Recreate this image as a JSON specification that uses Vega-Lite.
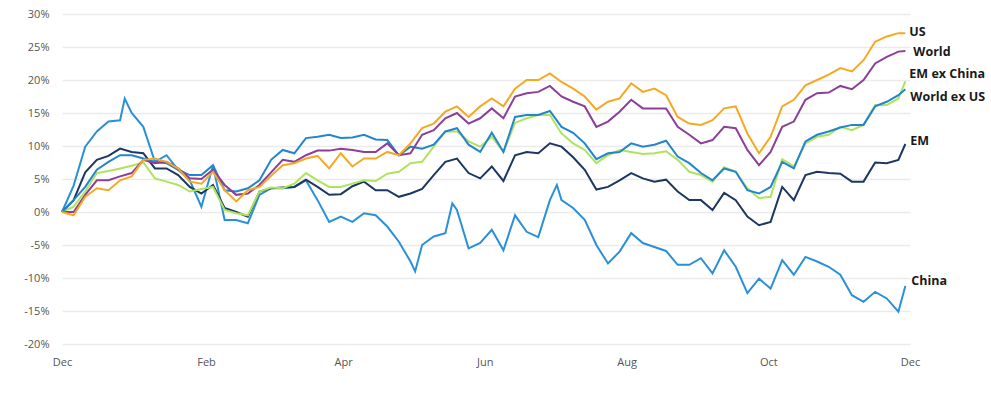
{
"$schema":"https://vega.github.io/schema/vega-lite/v6.json",
"width":848,"height":330,
"autosize":{"type":"none"},
"padding":{"left":62,"top":14,"right":81,"bottom":50},
"config":{"view":{"stroke":null},"font":"Open Sans"},
"data":{"values":[
{"d":"2022-12-01","s":"China","v":0},{"d":"2022-12-06","s":"China","v":4},{"d":"2022-12-11","s":"China","v":9.9},{"d":"2022-12-16","s":"China","v":12.2},{"d":"2022-12-21","s":"China","v":13.7},{"d":"2022-12-26","s":"China","v":13.9},{"d":"2022-12-28","s":"China","v":17.2},{"d":"2022-12-31","s":"China","v":15},{"d":"2023-01-05","s":"China","v":12.9},{"d":"2023-01-10","s":"China","v":7.6},{"d":"2023-01-15","s":"China","v":8.6},{"d":"2023-01-20","s":"China","v":6.4},{"d":"2023-01-25","s":"China","v":4.8},{"d":"2023-01-30","s":"China","v":0.8},{"d":"2023-02-04","s":"China","v":7},{"d":"2023-02-09","s":"China","v":-1.2},{"d":"2023-02-14","s":"China","v":-1.2},{"d":"2023-02-19","s":"China","v":-1.7},{"d":"2023-02-24","s":"China","v":2.6},{"d":"2023-03-01","s":"China","v":3.6},{"d":"2023-03-06","s":"China","v":3.6},{"d":"2023-03-11","s":"China","v":3.8},{"d":"2023-03-16","s":"China","v":4.8},{"d":"2023-03-21","s":"China","v":1.8},{"d":"2023-03-26","s":"China","v":-1.5},{"d":"2023-03-31","s":"China","v":-0.7},{"d":"2023-04-05","s":"China","v":-1.5},{"d":"2023-04-10","s":"China","v":-0.2},{"d":"2023-04-15","s":"China","v":-0.5},{"d":"2023-04-20","s":"China","v":-2.2},{"d":"2023-04-25","s":"China","v":-4.5},{"d":"2023-04-30","s":"China","v":-7.5},{"d":"2023-05-02","s":"China","v":-9},{"d":"2023-05-05","s":"China","v":-5},{"d":"2023-05-10","s":"China","v":-3.7},{"d":"2023-05-15","s":"China","v":-3.2},{"d":"2023-05-18","s":"China","v":1.3},{"d":"2023-05-20","s":"China","v":0.3},{"d":"2023-05-25","s":"China","v":-5.5},{"d":"2023-05-30","s":"China","v":-4.7},{"d":"2023-06-04","s":"China","v":-2.7},{"d":"2023-06-09","s":"China","v":-5.8},{"d":"2023-06-14","s":"China","v":-0.5},{"d":"2023-06-19","s":"China","v":-3},{"d":"2023-06-24","s":"China","v":-3.8},{"d":"2023-06-29","s":"China","v":1.8},{"d":"2023-07-02","s":"China","v":4.1},{"d":"2023-07-04","s":"China","v":1.8},{"d":"2023-07-09","s":"China","v":0.6},{"d":"2023-07-14","s":"China","v":-1.2},{"d":"2023-07-19","s":"China","v":-5},{"d":"2023-07-24","s":"China","v":-7.8},{"d":"2023-07-29","s":"China","v":-6},{"d":"2023-08-03","s":"China","v":-3.2},{"d":"2023-08-08","s":"China","v":-4.7},{"d":"2023-08-13","s":"China","v":-5.3},{"d":"2023-08-18","s":"China","v":-5.9},{"d":"2023-08-23","s":"China","v":-8},{"d":"2023-08-28","s":"China","v":-8},{"d":"2023-09-02","s":"China","v":-7},{"d":"2023-09-07","s":"China","v":-9.3},{"d":"2023-09-12","s":"China","v":-5.8},{"d":"2023-09-17","s":"China","v":-8.3},{"d":"2023-09-22","s":"China","v":-12.3},{"d":"2023-09-27","s":"China","v":-10.1},{"d":"2023-10-02","s":"China","v":-11.6},{"d":"2023-10-07","s":"China","v":-7.3},{"d":"2023-10-12","s":"China","v":-9.5},{"d":"2023-10-17","s":"China","v":-6.8},{"d":"2023-10-22","s":"China","v":-7.5},{"d":"2023-10-27","s":"China","v":-8.3},{"d":"2023-11-01","s":"China","v":-9.5},{"d":"2023-11-06","s":"China","v":-12.6},{"d":"2023-11-11","s":"China","v":-13.6},{"d":"2023-11-16","s":"China","v":-12.1},{"d":"2023-11-21","s":"China","v":-13.1},{"d":"2023-11-26","s":"China","v":-15.1},{"d":"2023-11-29","s":"China","v":-11.2},
{"d":"2022-12-01","s":"EM","v":0},{"d":"2022-12-06","s":"EM","v":1.8},{"d":"2022-12-11","s":"EM","v":6},{"d":"2022-12-16","s":"EM","v":7.9},{"d":"2022-12-21","s":"EM","v":8.5},{"d":"2022-12-26","s":"EM","v":9.6},{"d":"2022-12-31","s":"EM","v":9.1},{"d":"2023-01-05","s":"EM","v":8.9},{"d":"2023-01-10","s":"EM","v":6.6},{"d":"2023-01-15","s":"EM","v":6.6},{"d":"2023-01-20","s":"EM","v":5.6},{"d":"2023-01-25","s":"EM","v":3.8},{"d":"2023-01-30","s":"EM","v":2.8},{"d":"2023-02-04","s":"EM","v":4.1},{"d":"2023-02-09","s":"EM","v":0.6},{"d":"2023-02-14","s":"EM","v":0},{"d":"2023-02-19","s":"EM","v":-0.7},{"d":"2023-02-24","s":"EM","v":3.1},{"d":"2023-03-01","s":"EM","v":3.6},{"d":"2023-03-06","s":"EM","v":3.7},{"d":"2023-03-11","s":"EM","v":3.8},{"d":"2023-03-16","s":"EM","v":4.9},{"d":"2023-03-21","s":"EM","v":3.8},{"d":"2023-03-26","s":"EM","v":2.6},{"d":"2023-03-31","s":"EM","v":2.7},{"d":"2023-04-05","s":"EM","v":3.9},{"d":"2023-04-10","s":"EM","v":4.6},{"d":"2023-04-15","s":"EM","v":3.3},{"d":"2023-04-20","s":"EM","v":3.3},{"d":"2023-04-25","s":"EM","v":2.3},{"d":"2023-04-30","s":"EM","v":2.8},{"d":"2023-05-05","s":"EM","v":3.5},{"d":"2023-05-10","s":"EM","v":5.6},{"d":"2023-05-15","s":"EM","v":7.6},{"d":"2023-05-20","s":"EM","v":8.1},{"d":"2023-05-25","s":"EM","v":5.9},{"d":"2023-05-30","s":"EM","v":5.1},{"d":"2023-06-04","s":"EM","v":6.9},{"d":"2023-06-09","s":"EM","v":4.7},{"d":"2023-06-14","s":"EM","v":8.6},{"d":"2023-06-19","s":"EM","v":9.1},{"d":"2023-06-24","s":"EM","v":8.9},{"d":"2023-06-29","s":"EM","v":10.4},{"d":"2023-07-04","s":"EM","v":9.9},{"d":"2023-07-09","s":"EM","v":8.3},{"d":"2023-07-14","s":"EM","v":6.4},{"d":"2023-07-19","s":"EM","v":3.4},{"d":"2023-07-24","s":"EM","v":3.8},{"d":"2023-07-29","s":"EM","v":4.8},{"d":"2023-08-03","s":"EM","v":5.9},{"d":"2023-08-08","s":"EM","v":5.1},{"d":"2023-08-13","s":"EM","v":4.6},{"d":"2023-08-18","s":"EM","v":4.9},{"d":"2023-08-23","s":"EM","v":3.1},{"d":"2023-08-28","s":"EM","v":1.8},{"d":"2023-09-02","s":"EM","v":1.8},{"d":"2023-09-07","s":"EM","v":0.3},{"d":"2023-09-12","s":"EM","v":2.9},{"d":"2023-09-17","s":"EM","v":1.8},{"d":"2023-09-22","s":"EM","v":-0.7},{"d":"2023-09-27","s":"EM","v":-2},{"d":"2023-10-02","s":"EM","v":-1.5},{"d":"2023-10-07","s":"EM","v":3.8},{"d":"2023-10-12","s":"EM","v":1.8},{"d":"2023-10-17","s":"EM","v":5.6},{"d":"2023-10-22","s":"EM","v":6.1},{"d":"2023-10-27","s":"EM","v":5.9},{"d":"2023-11-01","s":"EM","v":5.8},{"d":"2023-11-06","s":"EM","v":4.6},{"d":"2023-11-11","s":"EM","v":4.6},{"d":"2023-11-16","s":"EM","v":7.5},{"d":"2023-11-21","s":"EM","v":7.4},{"d":"2023-11-26","s":"EM","v":7.9},{"d":"2023-11-29","s":"EM","v":10.3},
{"d":"2022-12-01","s":"EM ex China","v":0},{"d":"2022-12-06","s":"EM ex China","v":0.8},{"d":"2022-12-11","s":"EM ex China","v":3.1},{"d":"2022-12-16","s":"EM ex China","v":5.9},{"d":"2022-12-21","s":"EM ex China","v":6.2},{"d":"2022-12-26","s":"EM ex China","v":6.6},{"d":"2022-12-31","s":"EM ex China","v":7},{"d":"2023-01-05","s":"EM ex China","v":7.5},{"d":"2023-01-10","s":"EM ex China","v":5.1},{"d":"2023-01-15","s":"EM ex China","v":4.6},{"d":"2023-01-20","s":"EM ex China","v":4.1},{"d":"2023-01-25","s":"EM ex China","v":3.1},{"d":"2023-01-30","s":"EM ex China","v":3.5},{"d":"2023-02-04","s":"EM ex China","v":3.8},{"d":"2023-02-09","s":"EM ex China","v":0.3},{"d":"2023-02-14","s":"EM ex China","v":-0.2},{"d":"2023-02-19","s":"EM ex China","v":-0.5},{"d":"2023-02-24","s":"EM ex China","v":3.1},{"d":"2023-03-01","s":"EM ex China","v":3.7},{"d":"2023-03-06","s":"EM ex China","v":3.6},{"d":"2023-03-11","s":"EM ex China","v":4.3},{"d":"2023-03-16","s":"EM ex China","v":5.9},{"d":"2023-03-21","s":"EM ex China","v":4.8},{"d":"2023-03-26","s":"EM ex China","v":3.8},{"d":"2023-03-31","s":"EM ex China","v":3.8},{"d":"2023-04-05","s":"EM ex China","v":4.3},{"d":"2023-04-10","s":"EM ex China","v":4.8},{"d":"2023-04-15","s":"EM ex China","v":4.7},{"d":"2023-04-20","s":"EM ex China","v":5.8},{"d":"2023-04-25","s":"EM ex China","v":6.1},{"d":"2023-04-30","s":"EM ex China","v":7.4},{"d":"2023-05-05","s":"EM ex China","v":7.6},{"d":"2023-05-10","s":"EM ex China","v":9.9},{"d":"2023-05-15","s":"EM ex China","v":12.2},{"d":"2023-05-20","s":"EM ex China","v":12.2},{"d":"2023-05-25","s":"EM ex China","v":10.7},{"d":"2023-05-30","s":"EM ex China","v":9.9},{"d":"2023-06-04","s":"EM ex China","v":11.4},{"d":"2023-06-09","s":"EM ex China","v":9.1},{"d":"2023-06-14","s":"EM ex China","v":13.5},{"d":"2023-06-19","s":"EM ex China","v":14.2},{"d":"2023-06-24","s":"EM ex China","v":14.7},{"d":"2023-06-29","s":"EM ex China","v":14.7},{"d":"2023-07-04","s":"EM ex China","v":11.9},{"d":"2023-07-09","s":"EM ex China","v":10.4},{"d":"2023-07-14","s":"EM ex China","v":9.4},{"d":"2023-07-19","s":"EM ex China","v":7.4},{"d":"2023-07-24","s":"EM ex China","v":8.6},{"d":"2023-07-29","s":"EM ex China","v":9.4},{"d":"2023-08-03","s":"EM ex China","v":9.1},{"d":"2023-08-08","s":"EM ex China","v":8.8},{"d":"2023-08-13","s":"EM ex China","v":8.9},{"d":"2023-08-18","s":"EM ex China","v":9.2},{"d":"2023-08-23","s":"EM ex China","v":7.9},{"d":"2023-08-28","s":"EM ex China","v":6.1},{"d":"2023-09-02","s":"EM ex China","v":5.6},{"d":"2023-09-07","s":"EM ex China","v":4.6},{"d":"2023-09-12","s":"EM ex China","v":6.8},{"d":"2023-09-17","s":"EM ex China","v":6.1},{"d":"2023-09-22","s":"EM ex China","v":3.6},{"d":"2023-09-27","s":"EM ex China","v":2.1},{"d":"2023-10-02","s":"EM ex China","v":2.3},{"d":"2023-10-07","s":"EM ex China","v":8},{"d":"2023-10-12","s":"EM ex China","v":6.9},{"d":"2023-10-17","s":"EM ex China","v":10.4},{"d":"2023-10-22","s":"EM ex China","v":11.4},{"d":"2023-10-27","s":"EM ex China","v":11.7},{"d":"2023-11-01","s":"EM ex China","v":12.9},{"d":"2023-11-06","s":"EM ex China","v":12.4},{"d":"2023-11-11","s":"EM ex China","v":13.2},{"d":"2023-11-16","s":"EM ex China","v":16.2},{"d":"2023-11-21","s":"EM ex China","v":16.2},{"d":"2023-11-26","s":"EM ex China","v":17.2},{"d":"2023-11-29","s":"EM ex China","v":19.8},
{"d":"2022-12-01","s":"World ex US","v":0},{"d":"2022-12-06","s":"World ex US","v":1.8},{"d":"2022-12-11","s":"World ex US","v":3.8},{"d":"2022-12-16","s":"World ex US","v":6.4},{"d":"2022-12-21","s":"World ex US","v":7.6},{"d":"2022-12-26","s":"World ex US","v":8.6},{"d":"2022-12-31","s":"World ex US","v":8.6},{"d":"2023-01-05","s":"World ex US","v":8.1},{"d":"2023-01-10","s":"World ex US","v":7.6},{"d":"2023-01-15","s":"World ex US","v":7.4},{"d":"2023-01-20","s":"World ex US","v":6.4},{"d":"2023-01-25","s":"World ex US","v":5.6},{"d":"2023-01-30","s":"World ex US","v":5.6},{"d":"2023-02-04","s":"World ex US","v":7.1},{"d":"2023-02-09","s":"World ex US","v":3.3},{"d":"2023-02-14","s":"World ex US","v":3.1},{"d":"2023-02-19","s":"World ex US","v":3.6},{"d":"2023-02-24","s":"World ex US","v":4.8},{"d":"2023-03-01","s":"World ex US","v":7.9},{"d":"2023-03-06","s":"World ex US","v":9.4},{"d":"2023-03-11","s":"World ex US","v":8.9},{"d":"2023-03-16","s":"World ex US","v":11.2},{"d":"2023-03-21","s":"World ex US","v":11.4},{"d":"2023-03-26","s":"World ex US","v":11.7},{"d":"2023-03-31","s":"World ex US","v":11.2},{"d":"2023-04-05","s":"World ex US","v":11.3},{"d":"2023-04-10","s":"World ex US","v":11.7},{"d":"2023-04-15","s":"World ex US","v":11},{"d":"2023-04-20","s":"World ex US","v":10.9},{"d":"2023-04-25","s":"World ex US","v":8.6},{"d":"2023-04-30","s":"World ex US","v":9.9},{"d":"2023-05-05","s":"World ex US","v":9.6},{"d":"2023-05-10","s":"World ex US","v":10.2},{"d":"2023-05-15","s":"World ex US","v":12.2},{"d":"2023-05-20","s":"World ex US","v":12.7},{"d":"2023-05-25","s":"World ex US","v":10.2},{"d":"2023-05-30","s":"World ex US","v":9.1},{"d":"2023-06-04","s":"World ex US","v":12},{"d":"2023-06-09","s":"World ex US","v":9.1},{"d":"2023-06-14","s":"World ex US","v":14.4},{"d":"2023-06-19","s":"World ex US","v":14.7},{"d":"2023-06-24","s":"World ex US","v":14.7},{"d":"2023-06-29","s":"World ex US","v":15.3},{"d":"2023-07-04","s":"World ex US","v":12.9},{"d":"2023-07-09","s":"World ex US","v":12},{"d":"2023-07-14","s":"World ex US","v":10.4},{"d":"2023-07-19","s":"World ex US","v":8},{"d":"2023-07-24","s":"World ex US","v":8.9},{"d":"2023-07-29","s":"World ex US","v":9.1},{"d":"2023-08-03","s":"World ex US","v":10.4},{"d":"2023-08-08","s":"World ex US","v":9.9},{"d":"2023-08-13","s":"World ex US","v":10.2},{"d":"2023-08-18","s":"World ex US","v":10.8},{"d":"2023-08-23","s":"World ex US","v":8.4},{"d":"2023-08-28","s":"World ex US","v":7.4},{"d":"2023-09-02","s":"World ex US","v":5.9},{"d":"2023-09-07","s":"World ex US","v":4.8},{"d":"2023-09-12","s":"World ex US","v":6.6},{"d":"2023-09-17","s":"World ex US","v":6.1},{"d":"2023-09-22","s":"World ex US","v":3.3},{"d":"2023-09-27","s":"World ex US","v":2.8},{"d":"2023-10-02","s":"World ex US","v":3.8},{"d":"2023-10-07","s":"World ex US","v":7.6},{"d":"2023-10-12","s":"World ex US","v":6.6},{"d":"2023-10-17","s":"World ex US","v":10.7},{"d":"2023-10-22","s":"World ex US","v":11.7},{"d":"2023-10-27","s":"World ex US","v":12.2},{"d":"2023-11-01","s":"World ex US","v":12.8},{"d":"2023-11-06","s":"World ex US","v":13.2},{"d":"2023-11-11","s":"World ex US","v":13.2},{"d":"2023-11-16","s":"World ex US","v":16},{"d":"2023-11-21","s":"World ex US","v":16.7},{"d":"2023-11-26","s":"World ex US","v":17.7},{"d":"2023-11-29","s":"World ex US","v":18.6},
{"d":"2022-12-01","s":"World","v":0},{"d":"2022-12-06","s":"World","v":0},{"d":"2022-12-11","s":"World","v":2.6},{"d":"2022-12-16","s":"World","v":4.8},{"d":"2022-12-21","s":"World","v":4.8},{"d":"2022-12-26","s":"World","v":5.4},{"d":"2022-12-31","s":"World","v":5.9},{"d":"2023-01-05","s":"World","v":7.9},{"d":"2023-01-10","s":"World","v":7.4},{"d":"2023-01-15","s":"World","v":7.6},{"d":"2023-01-20","s":"World","v":6.6},{"d":"2023-01-25","s":"World","v":5.1},{"d":"2023-01-30","s":"World","v":5},{"d":"2023-02-04","s":"World","v":6.4},{"d":"2023-02-09","s":"World","v":4.1},{"d":"2023-02-14","s":"World","v":2.6},{"d":"2023-02-19","s":"World","v":2.8},{"d":"2023-02-24","s":"World","v":4.1},{"d":"2023-03-01","s":"World","v":6},{"d":"2023-03-06","s":"World","v":7.9},{"d":"2023-03-11","s":"World","v":7.6},{"d":"2023-03-16","s":"World","v":8.6},{"d":"2023-03-21","s":"World","v":9.3},{"d":"2023-03-26","s":"World","v":9.3},{"d":"2023-03-31","s":"World","v":9.6},{"d":"2023-04-05","s":"World","v":9.4},{"d":"2023-04-10","s":"World","v":9.1},{"d":"2023-04-15","s":"World","v":9.1},{"d":"2023-04-20","s":"World","v":10.4},{"d":"2023-04-25","s":"World","v":8.6},{"d":"2023-04-30","s":"World","v":8.9},{"d":"2023-05-05","s":"World","v":11.7},{"d":"2023-05-10","s":"World","v":12.4},{"d":"2023-05-15","s":"World","v":14.2},{"d":"2023-05-20","s":"World","v":15},{"d":"2023-05-25","s":"World","v":13.4},{"d":"2023-05-30","s":"World","v":14.2},{"d":"2023-06-04","s":"World","v":15.7},{"d":"2023-06-09","s":"World","v":14.2},{"d":"2023-06-14","s":"World","v":17.5},{"d":"2023-06-19","s":"World","v":18},{"d":"2023-06-24","s":"World","v":18.2},{"d":"2023-06-29","s":"World","v":19.1},{"d":"2023-07-04","s":"World","v":17.5},{"d":"2023-07-09","s":"World","v":16.7},{"d":"2023-07-14","s":"World","v":16},{"d":"2023-07-19","s":"World","v":12.9},{"d":"2023-07-24","s":"World","v":13.7},{"d":"2023-07-29","s":"World","v":15.2},{"d":"2023-08-03","s":"World","v":17},{"d":"2023-08-08","s":"World","v":15.7},{"d":"2023-08-13","s":"World","v":15.7},{"d":"2023-08-18","s":"World","v":15.7},{"d":"2023-08-23","s":"World","v":12.9},{"d":"2023-08-28","s":"World","v":11.7},{"d":"2023-09-02","s":"World","v":10.4},{"d":"2023-09-07","s":"World","v":10.9},{"d":"2023-09-12","s":"World","v":12.9},{"d":"2023-09-17","s":"World","v":12.7},{"d":"2023-09-22","s":"World","v":9.4},{"d":"2023-09-27","s":"World","v":7.1},{"d":"2023-10-02","s":"World","v":9.1},{"d":"2023-10-07","s":"World","v":12.9},{"d":"2023-10-12","s":"World","v":13.7},{"d":"2023-10-17","s":"World","v":17},{"d":"2023-10-22","s":"World","v":18},{"d":"2023-10-27","s":"World","v":18.1},{"d":"2023-11-01","s":"World","v":19.1},{"d":"2023-11-06","s":"World","v":18.6},{"d":"2023-11-11","s":"World","v":20},{"d":"2023-11-16","s":"World","v":22.5},{"d":"2023-11-21","s":"World","v":23.5},{"d":"2023-11-26","s":"World","v":24.3},{"d":"2023-11-29","s":"World","v":24.4},
{"d":"2022-12-01","s":"US","v":0},{"d":"2022-12-06","s":"US","v":-0.5},{"d":"2022-12-11","s":"US","v":2.3},{"d":"2022-12-16","s":"US","v":3.6},{"d":"2022-12-21","s":"US","v":3.3},{"d":"2022-12-26","s":"US","v":4.8},{"d":"2022-12-31","s":"US","v":5.4},{"d":"2023-01-05","s":"US","v":7.9},{"d":"2023-01-10","s":"US","v":8.1},{"d":"2023-01-15","s":"US","v":7.6},{"d":"2023-01-20","s":"US","v":6.6},{"d":"2023-01-25","s":"US","v":4.6},{"d":"2023-01-30","s":"US","v":4.3},{"d":"2023-02-04","s":"US","v":6.1},{"d":"2023-02-09","s":"US","v":3.3},{"d":"2023-02-14","s":"US","v":1.6},{"d":"2023-02-19","s":"US","v":3.3},{"d":"2023-02-24","s":"US","v":3.8},{"d":"2023-03-01","s":"US","v":5.5},{"d":"2023-03-06","s":"US","v":7.1},{"d":"2023-03-11","s":"US","v":7.4},{"d":"2023-03-16","s":"US","v":8.1},{"d":"2023-03-21","s":"US","v":8.5},{"d":"2023-03-26","s":"US","v":6.6},{"d":"2023-03-31","s":"US","v":8.9},{"d":"2023-04-05","s":"US","v":6.9},{"d":"2023-04-10","s":"US","v":8.1},{"d":"2023-04-15","s":"US","v":8.1},{"d":"2023-04-20","s":"US","v":9.1},{"d":"2023-04-25","s":"US","v":8.6},{"d":"2023-04-30","s":"US","v":10.4},{"d":"2023-05-05","s":"US","v":12.7},{"d":"2023-05-10","s":"US","v":13.4},{"d":"2023-05-15","s":"US","v":15.2},{"d":"2023-05-20","s":"US","v":16},{"d":"2023-05-25","s":"US","v":14.4},{"d":"2023-05-30","s":"US","v":16},{"d":"2023-06-04","s":"US","v":17.2},{"d":"2023-06-09","s":"US","v":16},{"d":"2023-06-14","s":"US","v":18.7},{"d":"2023-06-19","s":"US","v":20},{"d":"2023-06-24","s":"US","v":20},{"d":"2023-06-29","s":"US","v":21},{"d":"2023-07-04","s":"US","v":19.7},{"d":"2023-07-09","s":"US","v":18.7},{"d":"2023-07-14","s":"US","v":17.5},{"d":"2023-07-19","s":"US","v":15.5},{"d":"2023-07-24","s":"US","v":16.7},{"d":"2023-07-29","s":"US","v":17.2},{"d":"2023-08-03","s":"US","v":19.5},{"d":"2023-08-08","s":"US","v":18.2},{"d":"2023-08-13","s":"US","v":18.7},{"d":"2023-08-18","s":"US","v":17.7},{"d":"2023-08-23","s":"US","v":14.4},{"d":"2023-08-28","s":"US","v":13.4},{"d":"2023-09-02","s":"US","v":13.2},{"d":"2023-09-07","s":"US","v":13.9},{"d":"2023-09-12","s":"US","v":15.7},{"d":"2023-09-17","s":"US","v":16},{"d":"2023-09-22","s":"US","v":11.9},{"d":"2023-09-27","s":"US","v":8.9},{"d":"2023-10-02","s":"US","v":11.4},{"d":"2023-10-07","s":"US","v":16},{"d":"2023-10-12","s":"US","v":17},{"d":"2023-10-17","s":"US","v":19.2},{"d":"2023-10-22","s":"US","v":20},{"d":"2023-10-27","s":"US","v":20.8},{"d":"2023-11-01","s":"US","v":21.8},{"d":"2023-11-06","s":"US","v":21.3},{"d":"2023-11-11","s":"US","v":23},{"d":"2023-11-16","s":"US","v":25.8},{"d":"2023-11-21","s":"US","v":26.6},{"d":"2023-11-26","s":"US","v":27.1},{"d":"2023-11-29","s":"US","v":27.1}
]},
"encoding":{
"x":{"field":"d","type":"temporal","title":null,
 "scale":{"type":"utc","domain":[{"year":2022,"month":12,"date":1,"utc":true},{"year":2023,"month":12,"date":1,"utc":true}]},
 "axis":{"values":[{"year":2022,"month":12,"date":1,"utc":true},{"year":2023,"month":2,"date":1,"utc":true},{"year":2023,"month":4,"date":1,"utc":true},{"year":2023,"month":6,"date":1,"utc":true},{"year":2023,"month":8,"date":1,"utc":true},{"year":2023,"month":10,"date":1,"utc":true},{"year":2023,"month":12,"date":1,"utc":true}],
  "format":"%b","grid":false,"domain":false,"ticks":false,"labelPadding":12,"labelFontSize":11,"labelColor":"#555555","labelFont":"Open Sans","labelFlush":false}},
"y":{"field":"v","type":"quantitative","title":null,
 "scale":{"domain":[-20,30],"nice":false,"zero":false},
 "axis":{"values":[-20,-15,-10,-5,0,5,10,15,20,25,30],"labelExpr":"datum.value + '%'","grid":true,"gridColor":"#ebebeb","gridWidth":1.5,"domain":false,"ticks":false,"labelPadding":13,"labelFontSize":11,"labelColor":"#555555","labelFont":"Open Sans"}}
},
"layer":[
{"mark":{"type":"line","strokeWidth":2,"interpolate":"linear"},
 "encoding":{"color":{"field":"s","type":"nominal","legend":null,
  "scale":{"domain":["China","EM","EM ex China","World ex US","World","US"],"range":["#2a90d8","#1d3761","#aee45c","#2385cf","#8b3f99","#f7a823"]}}}},
{"transform":[{"filter":"time(datum.d) == utc(2023,10,29) && datum.s == 'US'"}],
 "mark":{"type":"text","align":"left","baseline":"middle","dx":4,"dy":-1,"fontWeight":"bold","fontSize":12.5,"font":"Open Sans","color":"#1a1a1a"},
 "encoding":{"text":{"field":"s"}}},
{"transform":[{"filter":"time(datum.d) == utc(2023,10,29) && datum.s == 'World'"}],
 "mark":{"type":"text","align":"left","baseline":"middle","dx":8,"dy":1,"fontWeight":"bold","fontSize":12.5,"font":"Open Sans","color":"#1a1a1a"},
 "encoding":{"text":{"field":"s"}}},
{"transform":[{"filter":"time(datum.d) == utc(2023,10,29) && datum.s == 'EM ex China'"}],
 "mark":{"type":"text","align":"left","baseline":"middle","dx":4,"dy":-7,"fontWeight":"bold","fontSize":12.5,"font":"Open Sans","color":"#1a1a1a"},
 "encoding":{"text":{"field":"s"}}},
{"transform":[{"filter":"time(datum.d) == utc(2023,10,29) && datum.s == 'World ex US'"}],
 "mark":{"type":"text","align":"left","baseline":"middle","dx":5,"dy":8,"fontWeight":"bold","fontSize":12.5,"font":"Open Sans","color":"#1a1a1a"},
 "encoding":{"text":{"field":"s"}}},
{"transform":[{"filter":"time(datum.d) == utc(2023,10,29) && datum.s == 'EM'"}],
 "mark":{"type":"text","align":"left","baseline":"middle","dx":5,"dy":-3,"fontWeight":"bold","fontSize":12.5,"font":"Open Sans","color":"#1a1a1a"},
 "encoding":{"text":{"field":"s"}}},
{"transform":[{"filter":"time(datum.d) == utc(2023,10,29) && datum.s == 'China'"}],
 "mark":{"type":"text","align":"left","baseline":"middle","dx":6,"dy":-5,"fontWeight":"bold","fontSize":12.5,"font":"Open Sans","color":"#1a1a1a"},
 "encoding":{"text":{"field":"s"}}}
]
}
